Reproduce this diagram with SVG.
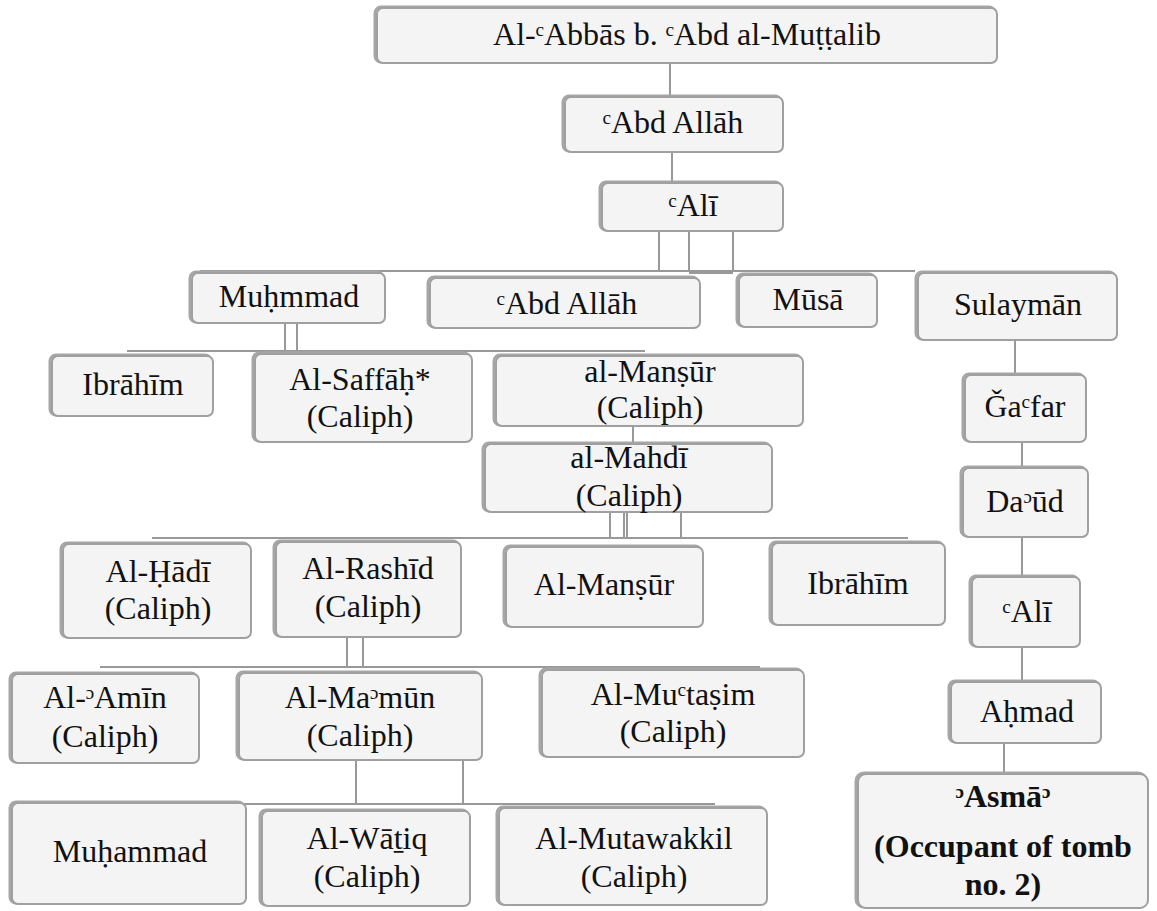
<svg xmlns="http://www.w3.org/2000/svg" width="1157" height="911" viewBox="0 0 1157 911">
<style>
.sh{fill:none;stroke:#a6a6a6;stroke-width:3}
.bx{fill:#f4f4f4;stroke:#a0a0a0;stroke-width:2}
.t{font-family:"Liberation Serif","DejaVu Serif",serif;font-size:32px;fill:#111;text-anchor:middle}
.b{font-weight:bold}
.c line{stroke:#999;stroke-width:2}
</style>
<rect width="1157" height="911" fill="#fff"/>
<g id="connectors" class="c">
<line x1="670" y1="63" x2="670" y2="97"/>
<line x1="672" y1="152" x2="672" y2="183"/>
<line x1="659" y1="231" x2="659" y2="270"/>
<line x1="689" y1="231" x2="689" y2="270"/>
<line x1="733" y1="231" x2="733" y2="270"/>
<line x1="200" y1="271" x2="915" y2="271"/>
<line x1="689" y1="273" x2="733" y2="273"/>
<line x1="285" y1="323" x2="285" y2="351"/>
<line x1="297" y1="323" x2="297" y2="351"/>
<line x1="127" y1="351" x2="645" y2="351"/>
<line x1="633" y1="426" x2="633" y2="444"/>
<line x1="610" y1="512" x2="610" y2="538"/>
<line x1="624" y1="512" x2="624" y2="538"/>
<line x1="627" y1="512" x2="627" y2="538"/>
<line x1="681" y1="512" x2="681" y2="538"/>
<line x1="152" y1="538" x2="908" y2="538"/>
<line x1="347" y1="637" x2="347" y2="667"/>
<line x1="363" y1="637" x2="363" y2="667"/>
<line x1="100" y1="667" x2="760" y2="667"/>
<line x1="356" y1="760" x2="356" y2="804"/>
<line x1="463" y1="760" x2="463" y2="804"/>
<line x1="240" y1="804" x2="715" y2="804"/>
<line x1="1015" y1="340" x2="1015" y2="375"/>
<line x1="1022" y1="442" x2="1022" y2="468"/>
<line x1="1022" y1="537" x2="1022" y2="577"/>
<line x1="1022" y1="647" x2="1022" y2="682"/>
<line x1="1004" y1="743" x2="1004" y2="774"/>
</g>
<g id="n1"><rect class="sh" x="375" y="7" width="620" height="55" rx="6"/><rect class="bx" x="377" y="8" width="620" height="55" rx="6"/><text class="t" x="687" y="45">Al-ᶜAbbās b. ᶜAbd al-Muṭṭalib</text></g>
<g id="n2"><rect class="sh" x="563" y="96" width="218" height="55" rx="6"/><rect class="bx" x="565" y="97" width="218" height="55" rx="6"/><text class="t" x="673" y="133">ᶜAbd Allāh</text></g>
<g id="n3"><rect class="sh" x="600" y="182" width="181" height="48" rx="6"/><rect class="bx" x="602" y="183" width="181" height="48" rx="6"/><text class="t" x="693" y="216">ᶜAlī</text></g>
<g id="n4"><rect class="sh" x="190" y="272" width="193" height="50" rx="6"/><rect class="bx" x="192" y="273" width="193" height="50" rx="6"/><text class="t" x="289" y="307">Muḥmmad</text></g>
<g id="n5"><rect class="sh" x="428" y="277" width="270" height="50" rx="6"/><rect class="bx" x="430" y="278" width="270" height="50" rx="6"/><text class="t" x="567" y="314">ᶜAbd Allāh</text></g>
<g id="n6"><rect class="sh" x="737" y="274" width="138" height="52" rx="6"/><rect class="bx" x="739" y="275" width="138" height="52" rx="6"/><text class="t" x="808" y="310">Mūsā</text></g>
<g id="n7"><rect class="sh" x="916" y="272" width="199" height="67" rx="6"/><rect class="bx" x="918" y="273" width="199" height="67" rx="6"/><text class="t" x="1018" y="315">Sulaymān</text></g>
<g id="n8"><rect class="sh" x="50" y="355" width="161" height="60" rx="6"/><rect class="bx" x="52" y="356" width="161" height="60" rx="6"/><text class="t" x="133" y="395">Ibrāhīm</text></g>
<g id="n9"><rect class="sh" x="253" y="353" width="217" height="88" rx="6"/><rect class="bx" x="255" y="354" width="217" height="88" rx="6"/><text class="t" x="360" y="390">Al-Saffāḥ*</text><text class="t" x="360" y="427">(Caliph)</text></g>
<g id="n10"><rect class="sh" x="494" y="355" width="307" height="70" rx="6"/><rect class="bx" x="496" y="356" width="307" height="70" rx="6"/><text class="t" x="650" y="382">al-Manṣūr</text><text class="t" x="650" y="418">(Caliph)</text></g>
<g id="n11"><rect class="sh" x="483" y="443" width="287" height="68" rx="6"/><rect class="bx" x="485" y="444" width="287" height="68" rx="6"/><text class="t" x="629" y="468">al-Mahdī</text><text class="t" x="629" y="506">(Caliph)</text></g>
<g id="n12"><rect class="sh" x="963" y="374" width="121" height="67" rx="6"/><rect class="bx" x="965" y="375" width="121" height="67" rx="6"/><text class="t" x="1025" y="417">Ǧaᶜfar</text></g>
<g id="n13"><rect class="sh" x="961" y="467" width="125" height="69" rx="6"/><rect class="bx" x="963" y="468" width="125" height="69" rx="6"/><text class="t" x="1025" y="512">Daᵓūd</text></g>
<g id="n14"><rect class="sh" x="61" y="543" width="188" height="94" rx="6"/><rect class="bx" x="63" y="544" width="188" height="94" rx="6"/><text class="t" x="158" y="582">Al-Ḥādī</text><text class="t" x="158" y="619">(Caliph)</text></g>
<g id="n15"><rect class="sh" x="274" y="541" width="185" height="95" rx="6"/><rect class="bx" x="276" y="542" width="185" height="95" rx="6"/><text class="t" x="368" y="579">Al-Rashīd</text><text class="t" x="368" y="617">(Caliph)</text></g>
<g id="n16"><rect class="sh" x="504" y="546" width="197" height="80" rx="6"/><rect class="bx" x="506" y="547" width="197" height="80" rx="6"/><text class="t" x="604" y="595">Al-Manṣūr</text></g>
<g id="n17"><rect class="sh" x="770" y="542" width="173" height="82" rx="6"/><rect class="bx" x="772" y="543" width="173" height="82" rx="6"/><text class="t" x="858" y="594">Ibrāhīm</text></g>
<g id="n18"><rect class="sh" x="970" y="576" width="108" height="70" rx="6"/><rect class="bx" x="972" y="577" width="108" height="70" rx="6"/><text class="t" x="1027" y="622">ᶜAlī</text></g>
<g id="n19"><rect class="sh" x="10" y="673" width="187" height="89" rx="6"/><rect class="bx" x="12" y="674" width="187" height="89" rx="6"/><text class="t" x="105" y="708">Al-ᵓAmīn</text><text class="t" x="105" y="747">(Caliph)</text></g>
<g id="n20"><rect class="sh" x="237" y="672" width="243" height="87" rx="6"/><rect class="bx" x="239" y="673" width="243" height="87" rx="6"/><text class="t" x="360" y="708">Al-Maᵓmūn</text><text class="t" x="360" y="746">(Caliph)</text></g>
<g id="n21"><rect class="sh" x="540" y="669" width="262" height="87" rx="6"/><rect class="bx" x="542" y="670" width="262" height="87" rx="6"/><text class="t" x="673" y="705">Al-Muᶜtaṣim</text><text class="t" x="673" y="742">(Caliph)</text></g>
<g id="n22"><rect class="sh" x="949" y="681" width="150" height="61" rx="6"/><rect class="bx" x="951" y="682" width="150" height="61" rx="6"/><text class="t" x="1027" y="722">Aḥmad</text></g>
<g id="n23"><rect class="sh" x="10" y="802" width="234" height="101" rx="6"/><rect class="bx" x="12" y="803" width="234" height="101" rx="6"/><text class="t" x="130" y="862">Muḥammad</text></g>
<g id="n24"><rect class="sh" x="260" y="810" width="208" height="95" rx="6"/><rect class="bx" x="262" y="811" width="208" height="95" rx="6"/><text class="t" x="367" y="849">Al-Wāṯiq</text><text class="t" x="367" y="887">(Caliph)</text></g>
<g id="n25"><rect class="sh" x="497" y="807" width="268" height="97" rx="6"/><rect class="bx" x="499" y="808" width="268" height="97" rx="6"/><text class="t" x="634" y="849">Al-Mutawakkil</text><text class="t" x="634" y="887">(Caliph)</text></g>
<g id="n26"><rect class="sh" x="856" y="773" width="290" height="134" rx="8"/><rect class="bx" x="858" y="774" width="290" height="134" rx="8"/><text class="t b" x="1003" y="807">ᵓAsmāᵓ</text><text class="t b" x="1003" y="857">(Occupant of tomb</text><text class="t b" x="1003" y="895">no. 2)</text></g>
</svg>
